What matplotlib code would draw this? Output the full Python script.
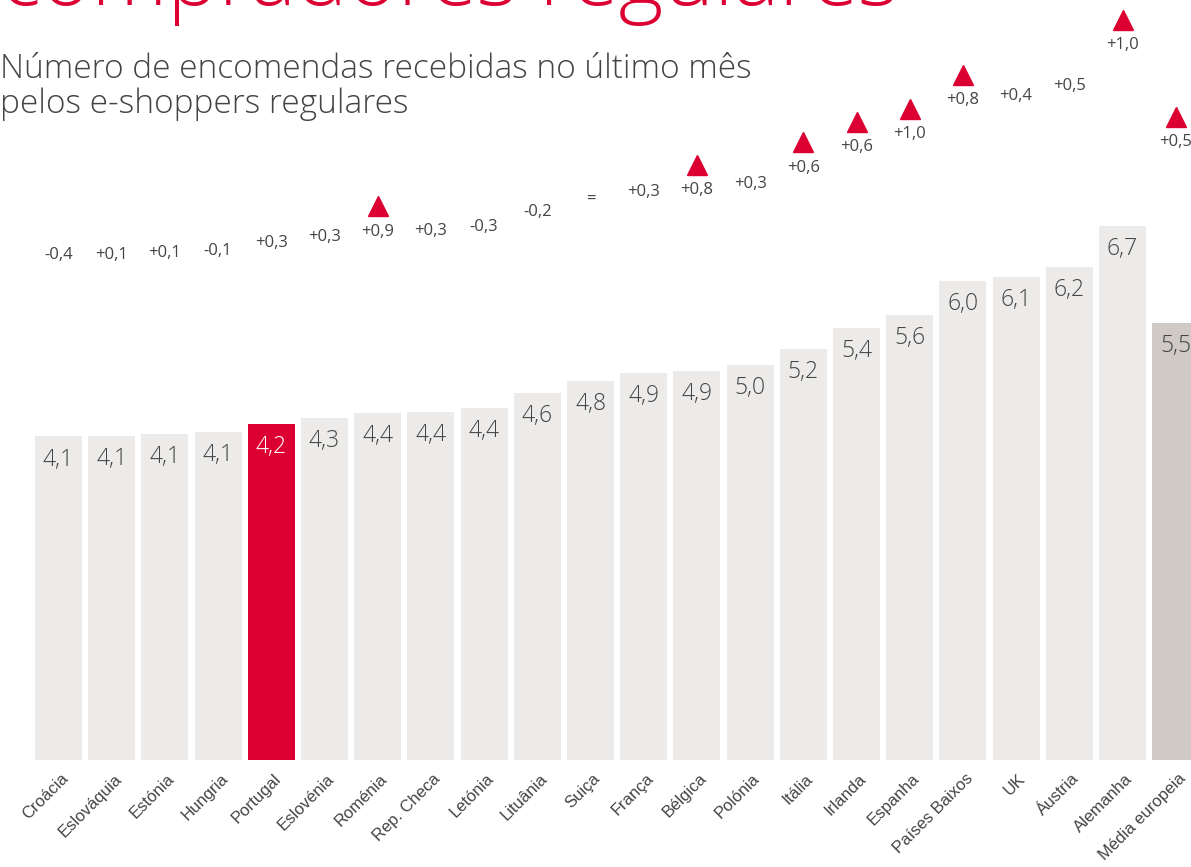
import numpy as np
import matplotlib
matplotlib.use("Agg")
from matplotlib import pyplot as plt

paises = ['Croácia', 'Eslováquia', 'Estónia', 'Hungria', 'Portugal', 'Eslovénia',
          'Roménia', 'Rep. Checa', 'Letónia', 'Lituânia', 'Suiça', 'França',
          'Bélgica', 'Polónia', 'Itália', 'Irlanda', 'Espanha', 'Países Baixos',
          'UK', 'Áustria', 'Alemanha', 'Média europeia']
encomendas = [4.06, 4.07, 4.09, 4.12, 4.22, 4.29, 4.36, 4.37, 4.42, 4.60, 4.76,
              4.86, 4.88, 4.96, 5.16, 5.42, 5.58, 6.01, 6.06, 6.19, 6.70, 5.48]
variacao = ['-0,4', '+0,1', '+0,1', '-0,1', '+0,3', '+0,3', '+0,9', '+0,3',
            '-0,3', '-0,2', '=', '+0,3', '+0,8', '+0,3', '+0,6', '+0,6', '+1,0',
            '+0,8', '+0,4', '+0,5', '+1,0', '+0,5']
subida = [False, False, False, False, False, False, True, False, False, False,
          False, False, True, False, True, True, True, True, False, False, True, True]

RED = '#DC0032'
GREY = '#ECEBEA'
AVG = '#CFCAC5'
TXT = '#444444'
FONT = 'Open Sans'

W, H = 1191, 867
fig = plt.figure(figsize=(W / 100, H / 100), dpi=100)
# baseline at pixel 760, 79.7 px per unit, bar i centered at 58.5 + 53.2*i px
ax = fig.add_axes([0, 1 - 760 / H, 1, 760 / H])
ax.set_xlim(-58.5 / 53.2, (W - 58.5) / 53.2)
ax.set_ylim(0, 760 / 79.7)
ax.axis('off')

x = np.arange(len(paises))
cores = [GREY] * len(paises)
cores[paises.index('Portugal')] = RED
cores[-1] = AVG
ax.bar(x, encomendas, width=0.885, color=cores)

for i, v in enumerate(encomendas):
    lab = f"{v:.1f}".replace('.', ',')
    c = 'white' if paises[i] == 'Portugal' else TXT
    ax.text(i, v - 0.29, lab, ha='center', va='center', fontsize=16.5,
            color=c, family=FONT, weight='light')
    ax.text(i, v + 2.27, variacao[i], ha='center', va='center', fontsize=12,
            color=TXT, family=FONT)
    if subida[i]:
        ax.plot(i, v + 2.59, marker='^', markersize=14, color=RED, clip_on=False)
    fig.text((58.5 + 53.2 * i + 2) / W, 1 - 771 / H, paises[i], rotation=45,
             rotation_mode='anchor', ha='right', va='top', fontsize=12,
             color=TXT, family='Liberation Sans')

fig.text(0, 1 - 5 / H, 'compradores regulares', fontsize=62, color=RED,
         family=FONT, weight='light', ha='left', va='baseline')
fig.text(0, 1 - 53 / H, 'Número de encomendas recebidas no último mês\npelos e-shoppers regulares',
         fontsize=24, color=TXT, family=FONT, weight='light', ha='left', va='top',
         linespacing=1.05)

fig.savefig('out.png', dpi=100)
